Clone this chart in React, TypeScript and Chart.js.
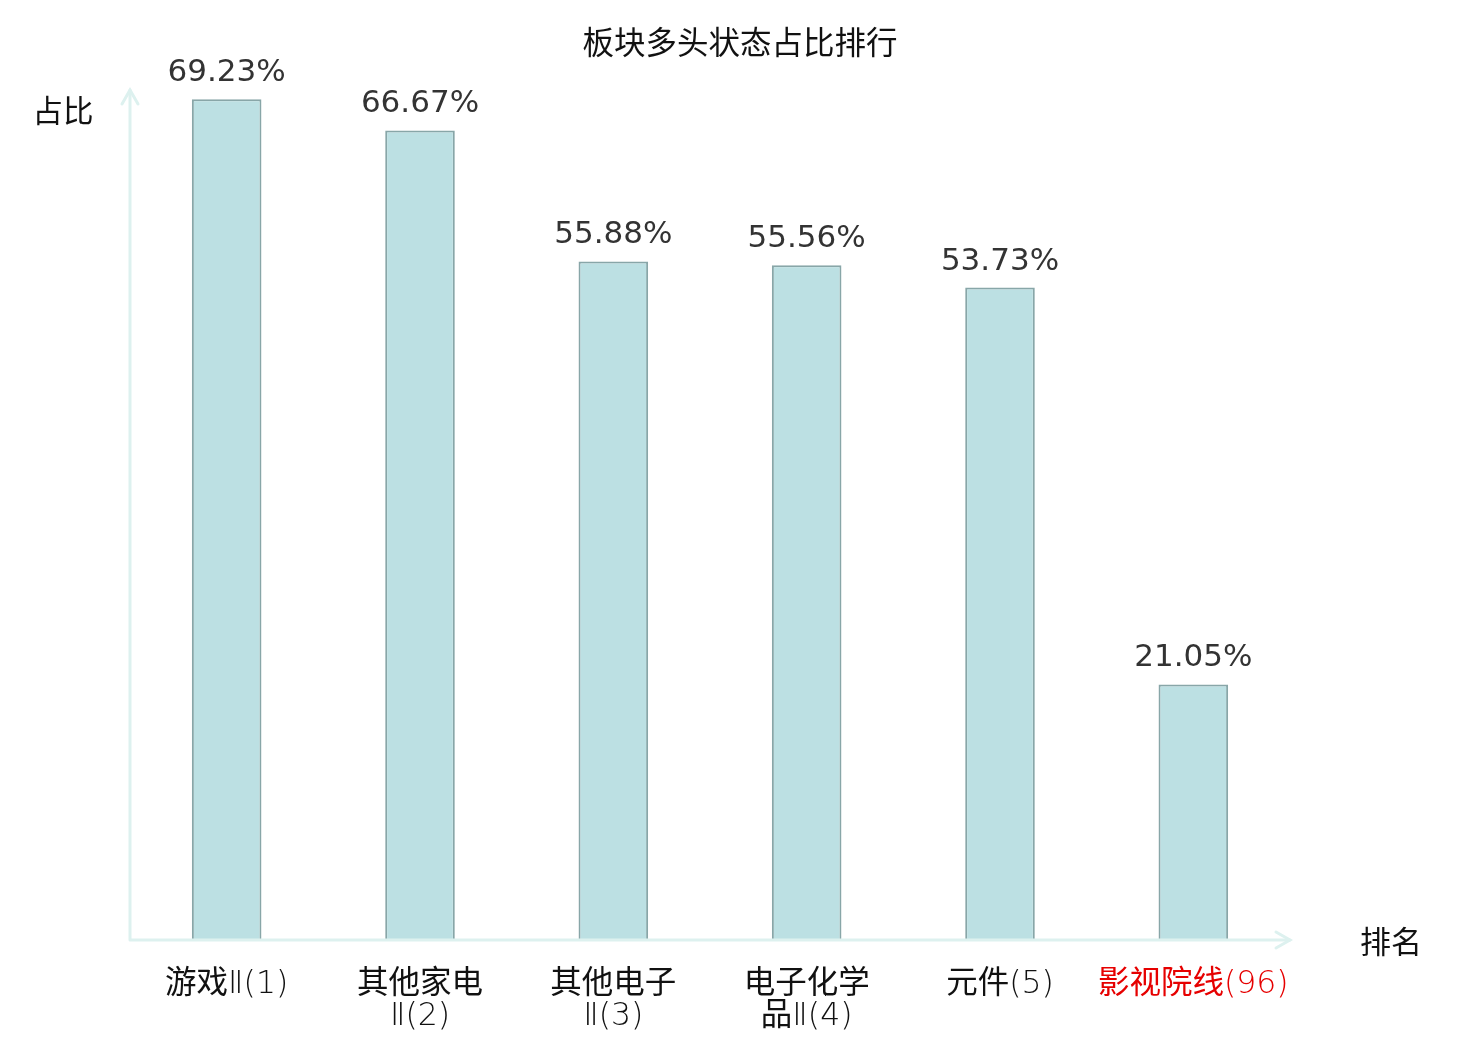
import React, { useEffect, useRef } from "react";
import { Chart, registerables } from "chart.js";

Chart.register(...registerables);

const categories: string[][] = [
  ["游戏Ⅱ(1)"],
  ["其他家电", "Ⅱ(2)"],
  ["其他电子", "Ⅱ(3)"],
  ["电子化学", "品Ⅱ(4)"],
  ["元件(5)"],
  ["影视院线(96)"],
];
const values: number[] = [69.23, 66.67, 55.88, 55.56, 53.73, 21.05];
const highlight: boolean[] = [false, false, false, false, false, true];
const titleText = "板块多头状态占比排行";
const yAxisName = "占比";
const xAxisName = "排名";

const FONT = "'DejaVu Sans', 'Noto Sans CJK SC', sans-serif";
const CJK = "'Noto Sans CJK SC', 'DejaVu Sans', sans-serif";
const THIN = "'DejaVu Sans ExtraLight', 'DejaVu Sans Light', 'Noto Sans CJK SC', sans-serif";

const overlay = {
  id: "overlay",
  afterDatasetsDraw(chart: any) {
    const ctx = chart.ctx as CanvasRenderingContext2D;
    const area = chart.chartArea;
    const xs = chart.scales.x;
    const meta = chart.getDatasetMeta(0);
    ctx.save();
    // axes
    ctx.strokeStyle = "#ddf1ef";
    ctx.lineWidth = 3;
    ctx.lineCap = "round";
    ctx.beginPath();
    ctx.moveTo(area.left, area.bottom);
    ctx.lineTo(area.left, area.top);
    ctx.moveTo(area.left, area.bottom);
    ctx.lineTo(area.right, area.bottom);
    ctx.stroke();
    ctx.beginPath();
    ctx.moveTo(area.left - 8, area.top + 14);
    ctx.lineTo(area.left, area.top);
    ctx.lineTo(area.left + 8, area.top + 14);
    ctx.moveTo(area.right - 14, area.bottom - 8);
    ctx.lineTo(area.right, area.bottom);
    ctx.lineTo(area.right - 14, area.bottom + 8);
    ctx.stroke();

    // title
    ctx.fillStyle = "#111";
    ctx.textAlign = "center";
    ctx.textBaseline = "middle";
    ctx.font = `31.5px ${CJK}`;
    ctx.fillText(titleText, 740, 42);
    ctx.font = `30.5px ${CJK}`;
    ctx.fillText(yAxisName, 63, 110);
    ctx.font = `31px ${CJK}`;
    ctx.fillText(xAxisName, 1391, 941);

    // value labels
    ctx.fillStyle = "#333";
    ctx.font = `31px ${FONT}`;
    ctx.textBaseline = "alphabetic";
    meta.data.forEach((bar: any, i: number) => {
      ctx.fillText(values[i].toFixed(2) + "%", bar.x, bar.y - 18);
    });

    // x labels
    ctx.font = `31.5px ${THIN}`;
    ctx.textBaseline = "middle";
    categories.forEach((lines, i) => {
      const x = xs.getPixelForValue(i);
      ctx.fillStyle = highlight[i] ? "#e60000" : "#111";
      lines.forEach((ln, j) => {
        ctx.fillText(ln, x, 985 + j * 32);
      });
    });
    ctx.restore();
  },
};

export default function App() {
  const ref = useRef<HTMLCanvasElement | null>(null);
  useEffect(() => {
    document.body.style.margin = "0";
    const chart = new Chart(ref.current!, {
      type: "bar",
      data: {
        labels: categories.map((c) => c.join("")),
        datasets: [
          {
            data: values,
            backgroundColor: "#bce0e3",
            borderColor: "#88a6a8",
            borderWidth: 2,
            barPercentage: 0.72,
            categoryPercentage: 0.5,
          },
        ],
      },
      options: {
        animation: false,
        responsive: false,
        layout: { padding: { left: 130, right: 190, top: 90, bottom: 100 } },
        plugins: { legend: { display: false }, tooltip: { enabled: false }, title: { display: false } },
        scales: {
          x: { display: false, offset: true },
          y: { display: false, min: 0, max: 70 },
        },
      },
      plugins: [overlay],
    });
    return () => chart.destroy();
  }, []);
  return (
    <div style={{ width: 1480, height: 1040, background: "#fff" }}>
      <canvas ref={ref} width={1480} height={1040} style={{ display: "block" }} />
    </div>
  );
}
